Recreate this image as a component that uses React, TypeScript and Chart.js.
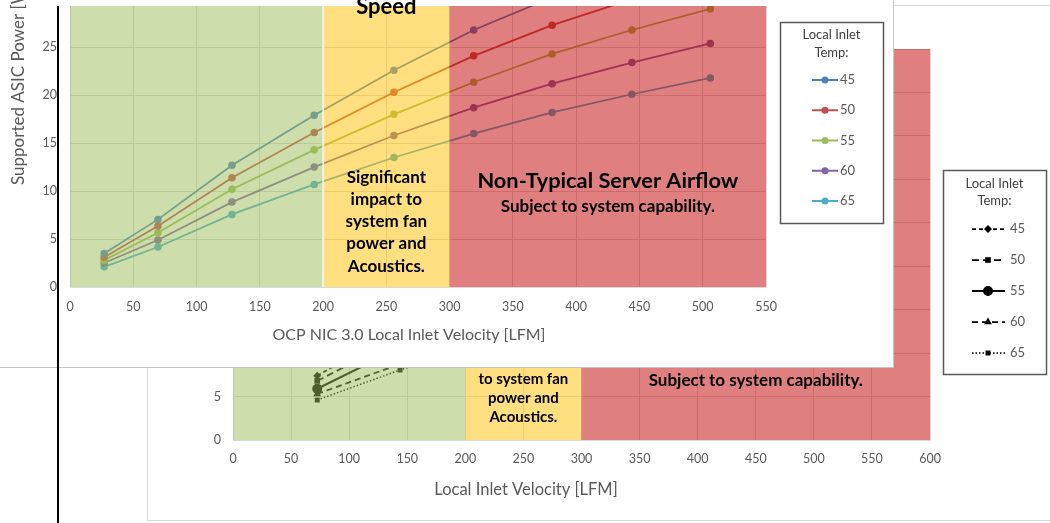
import { useEffect, useRef } from 'react';
import { Chart, registerables } from 'chart.js';
import { drawPoint } from 'chart.js/helpers';
Chart.register(...registerables);

// ---------- data ----------
const TEMPS = ['45', '50', '55', '60', '65'];

// Front chart: OCP NIC 3.0
const NIC_VELOCITY = [27, 69.5, 128, 193, 256, 319, 381, 444, 506];
const NIC_45 = [3.5, 7.05, 12.7, 17.9, 22.6, 26.8, 30.2, 33.3, 36.2];
const NIC_50 = [3.1, 6.35, 11.4, 16.1, 20.3, 24.1, 27.3, 30.0, 32.6];
const NIC_55 = [2.8, 5.66, 10.2, 14.3, 18.0, 21.35, 24.3, 26.8, 29.0];
const NIC_60 = [2.5, 4.9, 8.85, 12.5, 15.8, 18.7, 21.2, 23.4, 25.4];
const NIC_65 = [2.1, 4.17, 7.57, 10.7, 13.5, 16.0, 18.2, 20.1, 21.8];
const NIC_SERIES = [NIC_45, NIC_50, NIC_55, NIC_60, NIC_65];
const NIC_X_TICKS = [0, 50, 100, 150, 200, 250, 300, 350, 400, 450, 500, 550];
const NIC_Y_TICKS = [0, 5, 10, 15, 20, 25];
const NIC_ZONE_EDGES = [0, 200, 300, 550];

// Back chart: generic local inlet velocity
const BASE_VELOCITY = [72.5, 143.8, 216];
const BASE_45 = [7.4, 12.8, 17.6];
const BASE_50 = [6.8, 11.7, 16.3];
const BASE_55 = [5.9, 10.6, 14.8];
const BASE_60 = [5.3, 8.75, 12.4];
const BASE_65 = [4.6, 8.06, 11.2];
const BASE_SERIES = [BASE_45, BASE_50, BASE_55, BASE_60, BASE_65];
const BASE_X_TICKS = [0, 50, 100, 150, 200, 250, 300, 350, 400, 450, 500, 550, 600];
const BASE_Y_TICKS = [0, 5, 10, 15, 20, 25, 30, 35, 40, 45];
const BASE_ZONE_EDGES = [0, 200, 300, 600];

// ---------- styles ----------
const FONT = 'Lato, "Open Sans", sans-serif';
const TICK_COLOR = '#595959';
const GRID_COLOR = '#D9D9D9';
const ZONE_COLORS = ['rgba(155,187,89,0.5)', 'rgba(255,192,0,0.5)', 'rgba(192,0,0,0.5)'];
const NIC_COLORS = ['#4F81BD', '#C0504D', '#9BBB59', '#8064A2', '#4BACC6'];
const BASE_STYLES = [
  { dash: [4, 3], point: 'rectRot', r: 4, w: 1.75 },
  { dash: [7, 4], point: 'rect', r: 4, w: 1.75 },
  { dash: [], point: 'circle', r: 5, w: 2 },
  { dash: [6, 4], point: 'triangle', r: 4.5, w: 1.75 },
  { dash: [1.5, 2], point: 'rect', r: 3.5, w: 1.5 },
];

type Note = { lines: string[]; x: number; y: number; size: number; step: number };

const NIC_NOTES: Note[] = [
  { lines: ['Speed'], x: 250, y: 29.2, size: 22, step: 0 },
  { lines: ['Significant', 'impact to', 'system fan', 'power and', 'Acoustics.'], x: 250, y: 11.46, size: 17, step: 22.3 },
  { lines: ['Non-Typical Server Airflow'], x: 425, y: 11.04, size: 21.8, step: 0 },
  { lines: ['Subject to system capability.'], x: 425, y: 8.44, size: 17, step: 0 },
];
const BASE_NOTES: Note[] = [
  { lines: ['Significant impact', 'to system fan', 'power and', 'Acoustics.'], x: 250, y: 9.2, size: 15, step: 19 },
  { lines: ['Non-Typical Server Airflow'], x: 450, y: 9.67, size: 21.8, step: 0 },
  { lines: ['Subject to system capability.'], x: 450, y: 6.79, size: 17, step: 0 },
];

function zonePlugin(edges: number[], notes: Note[], whiteFirstEdge: boolean) {
  return {
    id: 'zones',
    afterDatasetsDraw(chart: any) {
      const { ctx, chartArea: a } = chart;
      const xs = chart.scales.x;
      const ys = chart.scales.y;
      ctx.save();
      for (let i = 0; i < edges.length - 1; i++) {
        const x0 = xs.getPixelForValue(edges[i]);
        const x1 = xs.getPixelForValue(edges[i + 1]);
        ctx.fillStyle = ZONE_COLORS[i];
        ctx.fillRect(x0, a.top, x1 - x0, a.bottom - a.top);
      }
      if (whiteFirstEdge) {
        const xe = xs.getPixelForValue(edges[1]);
        ctx.strokeStyle = 'rgba(255,255,255,0.9)';
        ctx.lineWidth = 1.5;
        ctx.beginPath();
        ctx.moveTo(xe, a.top);
        ctx.lineTo(xe, a.bottom);
        ctx.stroke();
      }
      ctx.fillStyle = '#000';
      ctx.textAlign = 'center';
      ctx.textBaseline = 'middle';
      for (const n of notes) {
        ctx.font = `bold ${n.size}px ${FONT}`;
        const cx = xs.getPixelForValue(n.x);
        const cy = ys.getPixelForValue(n.y);
        n.lines.forEach((t, k) => ctx.fillText(t, cx, cy + k * n.step));
      }
      ctx.restore();
    },
  };
}

type LegendSpec = {
  box: [number, number, number, number];
  titleX: number;
  titleYs: number[];
  itemY0: number;
  itemStep: number;
  textX: number;
};

function drawLegend(ctx: CanvasRenderingContext2D, L: LegendSpec, draw: (i: number, y: number) => void) {
  ctx.save();
  ctx.fillStyle = '#fff';
  ctx.fillRect(L.box[0], L.box[1], L.box[2], L.box[3]);
  ctx.strokeStyle = '#595959';
  ctx.lineWidth = 1.5;
  ctx.strokeRect(L.box[0], L.box[1], L.box[2], L.box[3]);
  ctx.fillStyle = '#404040';
  ctx.font = `13px ${FONT}`;
  ctx.textAlign = 'center';
  ctx.textBaseline = 'middle';
  ctx.fillText('Local Inlet', L.titleX, L.titleYs[0]);
  ctx.fillText('Temp:', L.titleX, L.titleYs[1]);
  TEMPS.forEach((t, i) => {
    const y = L.itemY0 + i * L.itemStep;
    draw(i, y);
    ctx.setLineDash([]);
    ctx.fillStyle = TICK_COLOR;
    ctx.font = `13px ${FONT}`;
    ctx.textAlign = 'left';
    ctx.fillText(t, L.textX, y);
  });
  ctx.restore();
}

function fixY(w: number) {
  return (s: any) => {
    s.width = w;
    s.paddingTop = 0;
    s.paddingBottom = 0;
  };
}
function fixX(h: number) {
  return (s: any) => {
    s.height = h;
    s.paddingLeft = 0;
    s.paddingRight = 0;
  };
}

function axes(xMax: number, xTicks: number[], yMax: number, yTicks: number[], yW: number, xH: number, xPad: number, yPad: number) {
  const tickFont = { family: FONT, size: 12.5 };
  return {
    x: {
      type: 'linear',
      min: 0,
      max: xMax,
      afterBuildTicks: (s: any) => {
        s.ticks = xTicks.map((value) => ({ value }));
      },
      afterFit: fixX(xH),
      grid: { color: GRID_COLOR, drawTicks: false, lineWidth: 1 },
      border: { color: GRID_COLOR },
      ticks: { color: TICK_COLOR, font: tickFont, padding: xPad, maxRotation: 0, autoSkip: false },
    },
    y: {
      type: 'linear',
      min: 0,
      max: yMax,
      afterBuildTicks: (s: any) => {
        s.ticks = yTicks.map((value) => ({ value }));
      },
      afterFit: fixY(yW),
      grid: { color: GRID_COLOR, drawTicks: false, lineWidth: 1 },
      border: { display: false },
      ticks: { color: TICK_COLOR, font: tickFont, padding: yPad, autoSkip: false },
    },
  };
}

function nicConfig(): any {
  const decor = {
    id: 'decor',
    afterDraw(chart: any) {
      const ctx = chart.ctx as CanvasRenderingContext2D;
      ctx.save();
      ctx.fillStyle = TICK_COLOR;
      ctx.font = `16px ${FONT}`;
      ctx.textAlign = 'center';
      ctx.textBaseline = 'middle';
      ctx.fillText('OCP NIC 3.0 Local Inlet Velocity [LFM]', 409, 335);
      ctx.font = `17px ${FONT}`;
      ctx.translate(19, 185);
      ctx.rotate(-Math.PI / 2);
      ctx.textAlign = 'left';
      ctx.fillText('Supported ASIC Power [W]', 0, 0);
      ctx.restore();
      drawLegend(
        ctx,
        { box: [780.5, 22.5, 103, 201], titleX: 831.5, titleYs: [35, 53], itemY0: 80, itemStep: 30.25, textX: 840 },
        (i, y) => {
          ctx.strokeStyle = NIC_COLORS[i];
          ctx.fillStyle = NIC_COLORS[i];
          ctx.lineWidth = 2;
          ctx.setLineDash([]);
          ctx.beginPath();
          ctx.moveTo(812, y);
          ctx.lineTo(838, y);
          ctx.stroke();
          drawPoint(ctx, { pointStyle: 'circle', radius: 3.5, rotation: 0, borderWidth: 0 } as any, 825, y);
        }
      );
    },
  };
  return {
    type: 'line',
    data: {
      datasets: TEMPS.map((t, i) => ({
        label: t,
        data: NIC_VELOCITY.map((v, k) => ({ x: v, y: NIC_SERIES[i][k] })),
        borderColor: NIC_COLORS[i],
        backgroundColor: NIC_COLORS[i],
        borderWidth: 1.75,
        pointRadius: 3.75,
        pointBorderWidth: 0,
        tension: 0,
      })),
    },
    options: {
      responsive: false,
      animation: false,
      devicePixelRatio: 1,
      events: [],
      layout: { padding: { left: 0, right: 127, top: 6, bottom: 0 } },
      plugins: { legend: { display: false }, tooltip: { enabled: false } },
      scales: axes(550, NIC_X_TICKS, 29.3, NIC_Y_TICKS, 70, 80, 12, 13),
    },
    plugins: [zonePlugin(NIC_ZONE_EDGES, NIC_NOTES, true), decor],
  };
}

function baseConfig(): any {
  const decor = {
    id: 'decor',
    afterDraw(chart: any) {
      const ctx = chart.ctx as CanvasRenderingContext2D;
      ctx.save();
      ctx.fillStyle = TICK_COLOR;
      ctx.font = `16.5px ${FONT}`;
      ctx.textAlign = 'center';
      ctx.textBaseline = 'middle';
      ctx.fillText('Local Inlet Velocity [LFM]', 378, 484);
      ctx.restore();
      drawLegend(
        ctx,
        { box: [795.5, 164.5, 103, 204], titleX: 846.5, titleYs: [178, 195], itemY0: 223, itemStep: 31, textX: 862 },
        (i, y) => {
          const st = BASE_STYLES[i];
          ctx.strokeStyle = '#000';
          ctx.fillStyle = '#000';
          ctx.lineWidth = st.w;
          ctx.setLineDash(st.dash);
          ctx.beginPath();
          ctx.moveTo(824, y);
          ctx.lineTo(857, y);
          ctx.stroke();
          ctx.setLineDash([]);
          drawPoint(ctx, { pointStyle: st.point, radius: st.r, rotation: 0, borderWidth: 0 } as any, 840, y);
        }
      );
    },
  };
  return {
    type: 'line',
    data: {
      datasets: TEMPS.map((t, i) => ({
        label: t,
        data: BASE_VELOCITY.map((v, k) => ({ x: v, y: BASE_SERIES[i][k] })),
        borderColor: '#000',
        backgroundColor: '#000',
        borderWidth: BASE_STYLES[i].w,
        borderDash: BASE_STYLES[i].dash,
        pointStyle: BASE_STYLES[i].point,
        pointRadius: BASE_STYLES[i].r,
        pointBorderWidth: 0,
        tension: 0,
      })),
    },
    options: {
      responsive: false,
      animation: false,
      devicePixelRatio: 1,
      events: [],
      layout: { padding: { left: 0, right: 120, top: 43, bottom: 0 } },
      plugins: { legend: { display: false }, tooltip: { enabled: false } },
      scales: axes(600, BASE_X_TICKS, 45, BASE_Y_TICKS, 85, 80, 11, 12),
    },
    plugins: [zonePlugin(BASE_ZONE_EDGES, BASE_NOTES, false), decor],
  };
}

export default function App() {
  const nicRef = useRef<HTMLCanvasElement>(null);
  const baseRef = useRef<HTMLCanvasElement>(null);
  useEffect(() => {
    const base = new Chart(baseRef.current as HTMLCanvasElement, baseConfig());
    const nic = new Chart(nicRef.current as HTMLCanvasElement, nicConfig());
    return () => {
      base.destroy();
      nic.destroy();
    };
  }, []);
  return (
    <div style={{ position: 'fixed', left: 0, top: 0, width: 1050, height: 523, overflow: 'hidden', background: '#fff' }}>
      <div style={{ position: 'absolute', left: 147, top: 5, width: 920, height: 514, border: '1px solid #D9D9D9', background: '#fff' }}>
        <canvas ref={baseRef} width={902} height={514} style={{ display: 'block' }} />
      </div>
      <div style={{ position: 'absolute', left: 0, top: 0, width: 893, height: 367, borderRight: '1px solid #C8C8C8', borderBottom: '1px solid #C8C8C8', background: '#fff' }}>
        <canvas ref={nicRef} width={893} height={367} style={{ display: 'block' }} />
      </div>
      <div style={{ position: 'absolute', left: 57, top: 6, width: 2, height: 517, background: '#000' }} />
    </div>
  );
}
